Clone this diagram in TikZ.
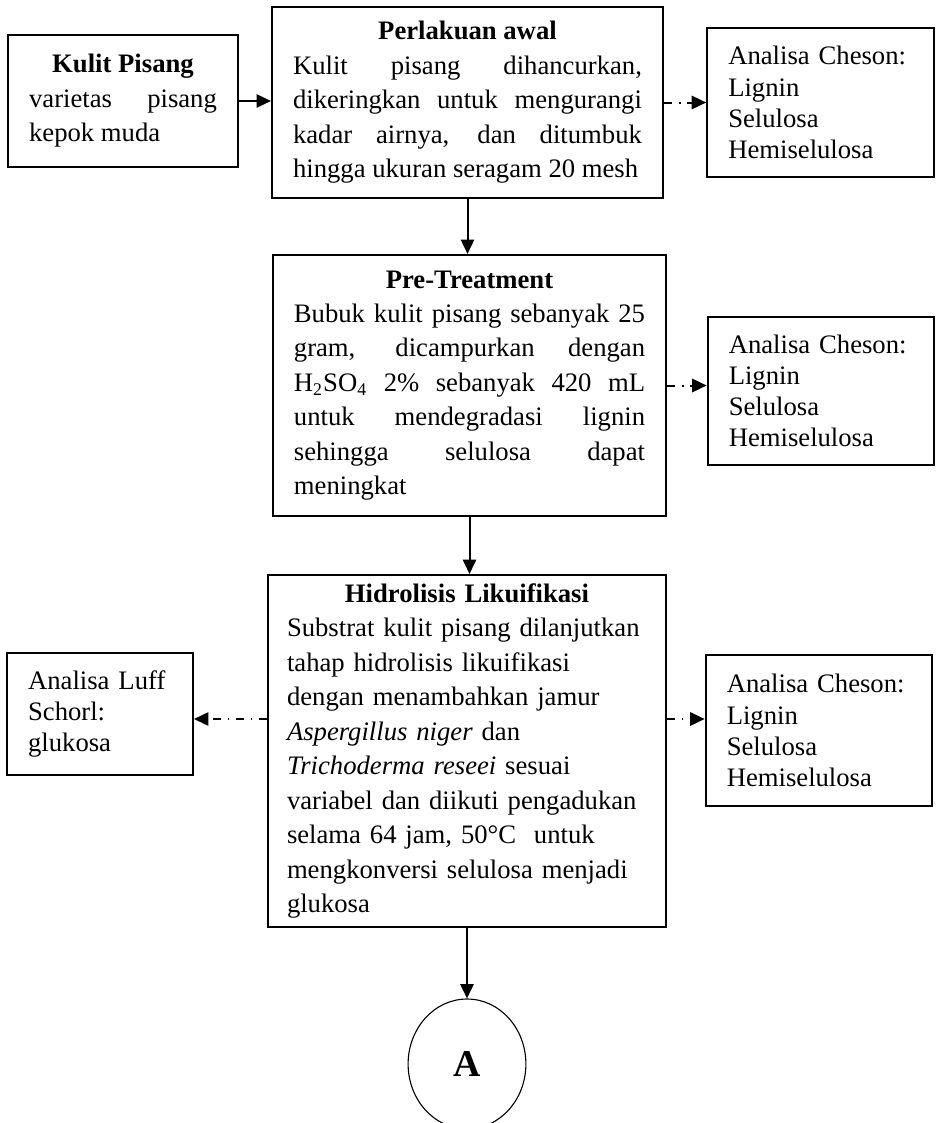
\documentclass[tikz,border=0pt]{standalone}
\usepackage{fontspec}
\setmainfont{Liberation Serif}
\usetikzlibrary{arrows.meta}
\usetikzlibrary{shapes.geometric}
\newcommand{\boxhead}[1]{{\centering\textbf{#1}\par}}
\tikzset{
  box/.style={draw=black, line width=0.9pt, inner xsep=9.5pt, inner ysep=0pt, font=\fontsize{12}{15.5}\selectfont},
  sidebox/.style={box, align=left, text width=83pt, font=\fontsize{12}{14}\selectfont},
  flow/.style={line width=0.9pt, -{Triangle[length=6.5pt,width=6pt]}},
  dashflow/.style={flow, dash pattern=on 3.6pt off 3pt on 0.8pt off 3pt},
}

\begin{document}
\begin{tikzpicture}[x=0.45pt, y=-0.45pt]
\useasboundingbox (0,0) rectangle (937,1123);
\node[box, text width=84.5pt, minimum height=59.4pt, align=justify] (kulit) at (123,101)
  {\boxhead{Kulit Pisang}varietas pisang\linebreak kepok muda};
\node[box, text width=157pt, minimum height=86pt, align=justify] (awal) at (467.5,102.5)
  {\boxhead{Perlakuan awal}Kulit pisang dihancurkan,\linebreak dikeringkan untuk mengurangi\linebreak kadar airnya, dan ditumbuk\linebreak hingga ukuran seragam 20 mesh};
\node[sidebox, minimum height=67pt] (cheson1) at (820.5,102.5)
  {Analisa Cheson:\\Lignin\\Selulosa\\Hemiselulosa};
\node[box, text width=158pt, minimum height=117.5pt, align=justify] (pre) at (469.5,385.5)
  {\boxhead{Pre-Treatment}Bubuk kulit pisang sebanyak 25\linebreak gram, dicampurkan dengan\linebreak H\textsubscript{2}SO\textsubscript{4} 2\% sebanyak 420 mL\linebreak untuk mendegradasi lignin\linebreak sehingga selulosa dapat\linebreak meningkat};
\node[sidebox, minimum height=66.6pt] (cheson2) at (821,391)
  {Analisa Cheson:\\Lignin\\Selulosa\\Hemiselulosa};
\node[box, text width=162pt, inner xsep=8.5pt, minimum height=158.4pt, align=left] (hidro) at (467,751)
  {\boxhead{Hidrolisis Likuifikasi}Substrat kulit pisang dilanjutkan\\tahap hidrolisis likuifikasi\\dengan menambahkan jamur\\\textit{Aspergillus niger} dan\\\textit{Trichoderma reseei} sesuai\\variabel dan diikuti pengadukan\\selama 64 jam, 50°C\ \ untuk\\mengkonversi selulosa menjadi\\glukosa};
\node[sidebox, text width=64.7pt, minimum height=55pt] (luff) at (100,714)
  {Analisa Luff\\Schorl:\\glukosa};
\node[sidebox, minimum height=68pt] (cheson3) at (819,730.5)
  {Analisa Cheson:\\Lignin\\Selulosa\\Hemiselulosa};
\node[draw, ellipse, line width=0.5pt, minimum width=53pt, minimum height=58.5pt, inner sep=0pt,
  font=\fontsize{17}{20}\selectfont\bfseries] (A) at (467,1064) {A};
\coordinate (hk) at (467,719);
\draw[flow] (kulit.east) -- (kulit.east -| awal.west);
\draw[flow] (awal.south) -- (awal.south |- pre.north);
\draw[flow] (pre.south) -- (pre.south |- hidro.north);
\draw[flow] (hidro.south) -- (A.north);
\draw[dashflow] (awal.east) -- (cheson1.west);
\draw[dashflow] (pre.east) -- (pre.east -| cheson2.west);
\draw[dashflow] (hk -| hidro.east) -- (hk -| cheson3.west);
\draw[dashflow] (hk -| hidro.west) -- (hk -| luff.east);
\end{tikzpicture}
\end{document}
